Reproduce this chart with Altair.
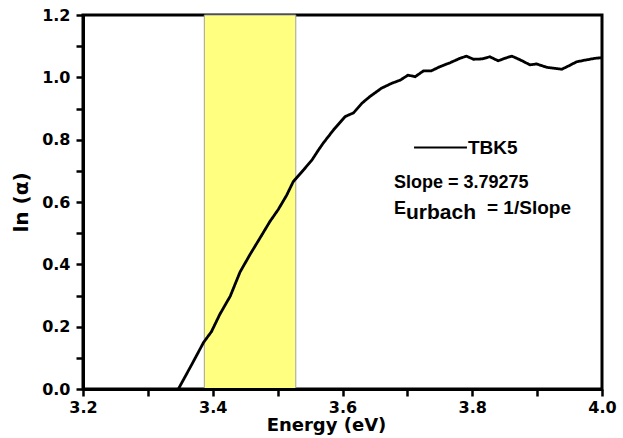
import altair as alt
import pandas as pd

energy = [3.347, 3.368, 3.386, 3.398, 3.411, 3.427, 3.442, 3.457, 3.473, 3.488,
          3.501, 3.514, 3.524, 3.540, 3.553, 3.563, 3.570, 3.586, 3.604, 3.617,
          3.630, 3.642, 3.660, 3.676, 3.689, 3.701, 3.712, 3.725, 3.737, 3.750,
          3.766, 3.781, 3.791, 3.802, 3.815, 3.827, 3.840, 3.850, 3.861, 3.874,
          3.889, 3.899, 3.915, 3.938, 3.948, 3.961, 3.976, 3.989, 4.000]
ln_alpha = [0.000, 0.080, 0.150, 0.184, 0.240, 0.298, 0.375, 0.430, 0.485, 0.537,
            0.576, 0.622, 0.665, 0.703, 0.735, 0.767, 0.788, 0.831, 0.874, 0.886,
            0.917, 0.938, 0.965, 0.981, 0.991, 1.007, 1.002, 1.021, 1.021, 1.034,
            1.047, 1.061, 1.068, 1.058, 1.059, 1.066, 1.053, 1.061, 1.068, 1.056,
            1.040, 1.043, 1.032, 1.026, 1.036, 1.050, 1.056, 1.061, 1.063]
series_name = "TBK5"
band_start = [3.387]
band_end = [3.528]
x_ticks = [round(3.2 + 0.1 * i, 1) for i in range(9)]
y_ticks = [round(0.1 * i, 1) for i in range(13)]

# annotation texts: "Slope = 3.79275", "E", "urbach" (subscript), "= 1/Slope"
note_texts = ["Slope = 3.79275", "E", "urbach", "= 1/Slope"]

df = pd.DataFrame({"energy": energy, "ln_alpha": ln_alpha, "series": series_name,
                   "n3": note_texts[3]})
band = pd.DataFrame({"x1": band_start, "x2": band_end,
                     "n1": note_texts[0], "n2": note_texts[1], "n4": note_texts[2]})

AX_FONT = "DejaVu Sans"
TX_FONT = "Liberation Sans"
label_expr = "abs(round(datum.value*10)) % 2 == 0 ? format(datum.value, '.1f') : ''"

xscale = alt.Scale(domain=[3.2, 4.0], nice=False, zero=False)
yscale = alt.Scale(domain=[0, 1.2], nice=False, zero=False)

common = dict(grid=False, ticks=True, tickSize=7, tickColor="#000000", tickWidth=2.5,
              domain=True, domainColor="#000000", domainWidth=3, zindex=1,
              labelExpr=label_expr,
              labelFont=AX_FONT, labelFontSize=16, labelFontWeight="bold", labelColor="black",
              labelFlush=False, titleFont=AX_FONT, titleFontWeight="bold", titleColor="black")

xaxis = alt.Axis(values=x_ticks, title="Energy (eV)",
                 labelPadding=3, titleFontSize=18,
                 titleX=243, titleY=41, titleBaseline="alphabetic", titleAlign="center", **common)
yaxis = alt.Axis(values=y_ticks, title="ln (α)",
                 labelPadding=6, titleFontSize=20,
                 titleX=-62, titleY=187, titleAngle=270, titleAlign="center",
                 titleBaseline="middle", **common)


def note_legend(x, y, size):
    return alt.Legend(title=None, orient="none", legendX=x, legendY=y,
                      symbolType="stroke", symbolSize=2800, symbolOpacity=0,
                      padding=0, labelOffset=0, labelLimit=0,
                      labelFont=TX_FONT, labelFontSize=size, labelFontWeight="bold",
                      labelColor="black")


band_layer = alt.Chart(band).mark_rect(strokeWidth=1).encode(
    x=alt.X("x1:Q", scale=xscale, axis=xaxis),
    x2="x2:Q",
    y=alt.Y("y1:Q", scale=yscale, axis=yaxis),
    y2="y2:Q",
    fill=alt.Fill("n1:N", scale=alt.Scale(domain=[note_texts[0]], range=["#ffff80"]),
                  legend=note_legend(256, 140, 18)),
    stroke=alt.Stroke("n2:N", scale=alt.Scale(domain=[note_texts[1]], range=["#a0a0a0"]),
                      legend=note_legend(256, 166, 18)),
    opacity=alt.Opacity("n4:N", scale=alt.Scale(type="ordinal", domain=[note_texts[2]], range=[1]),
                        legend=note_legend(268, 170.5, 21)),
).transform_calculate(y1="0", y2="1.2")

line_layer = alt.Chart(df).mark_line(strokeWidth=2.8).encode(
    x=alt.X("energy:Q", scale=xscale, axis=xaxis),
    y=alt.Y("ln_alpha:Q", scale=yscale, axis=yaxis),
    color=alt.Color("series:N", scale=alt.Scale(domain=[series_name], range=["black"]),
                    legend=alt.Legend(title=None, orient="none", legendX=330, legendY=105,
                                      symbolType="stroke", symbolSize=2800, symbolStrokeWidth=2,
                                      symbolStrokeColor="black", padding=0, labelOffset=0,
                                      labelFont=TX_FONT, labelFontSize=19, labelFontWeight="bold",
                                      labelColor="black")),
    strokeDash=alt.StrokeDash("n3:N", scale=alt.Scale(domain=[note_texts[3]], range=[[1, 0]]),
                              legend=note_legend(349, 165.5, 19)),
)

chart = alt.layer(band_layer, line_layer).properties(
    width=519, height=374,
    autosize=alt.AutoSizeParams(type="none"),
    padding={"left": 83, "top": 15, "right": 21, "bottom": 49},
    background="white",
).configure_view(stroke="#000000", strokeWidth=3)

chart.save("out.html", embed_options={"renderer": "svg", "actions": False})
